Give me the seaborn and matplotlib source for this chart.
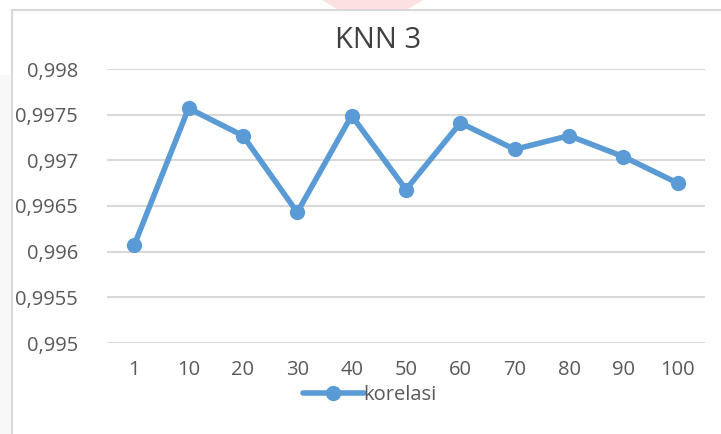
import matplotlib
matplotlib.use("Agg")
import matplotlib.pyplot as plt
import matplotlib.patches as mpatches
from matplotlib.ticker import FuncFormatter, MultipleLocator
import seaborn as sns
import pandas as pd

# K values and correlation scores
k_values = ["1", "10", "20", "30", "40", "50", "60", "70", "80", "90", "100"]
korelasi = [0.99607, 0.99757, 0.99727, 0.99643, 0.99749, 0.99668,
            0.99741, 0.99712, 0.99727, 0.99704, 0.99675]
title = "KNN 3"
series_name = "korelasi"

sns.set_theme(style="white")
plt.rcParams["font.family"] = ["Open Sans", "DejaVu Sans"]

W, H = 721, 434
fig = plt.figure(figsize=(W / 100, H / 100), dpi=100)
fig.patch.set_facecolor("white")

# light frame around the chart area
frame = mpatches.Rectangle((12 / W, -0.1), 1.2, 1 - 10 / H + 0.1,
                           transform=fig.transFigure, fill=False,
                           edgecolor="#d9d9d9", linewidth=1.5)
fig.patches.append(frame)
# pale grey page margin on the left
fig.patches.append(mpatches.Rectangle((0, 0), 11 / W, 1 - 75 / H,
                                      transform=fig.transFigure,
                                      facecolor="#f8f8f8", edgecolor="none"))
# pink mark peeking in at the top
fig.patches.append(mpatches.Polygon([(322 / W, 1.0), (423 / W, 1.0),
                                     (408 / W, 1 - 9 / H), (337 / W, 1 - 9 / H)],
                                    closed=True, transform=fig.transFigure,
                                    facecolor="#fde0e2", edgecolor="none"))

ax = fig.add_axes([107 / W, 1 - 343 / H, (705 - 107) / W, (343 - 69) / H])
df = pd.DataFrame({"k": k_values, series_name: korelasi})
color = "#5b9bd5"
sns.lineplot(data=df, x="k", y=series_name, ax=ax, color=color,
             linewidth=4, marker="o", markersize=11,
             markeredgewidth=0, label=series_name, sort=False)

ax.set_xlim(-0.5, len(k_values) - 0.5)
ax.set_ylim(0.995, 0.998)
ax.yaxis.set_major_locator(MultipleLocator(0.0005))
ax.yaxis.set_major_formatter(FuncFormatter(lambda v, p: f"{v:.4f}".rstrip("0").replace(".", ",")))
ax.grid(axis="y", color="#d9d9d9", linewidth=1.5)
ax.set_axisbelow(True)
for s in ax.spines.values():
    s.set_visible(False)
ax.set_xlabel("")
ax.set_ylabel("")
ax.tick_params(axis="both", length=0, labelsize=14.5, colors="#595959")
ax.tick_params(axis="y", pad=21)
ax.tick_params(axis="x", pad=12)

fig.text(378 / W, 1 - 40 / H, title, fontsize=21, color="#404040",
         ha="center", va="center")

leg = ax.legend(loc="upper center", bbox_to_anchor=(0.44, -0.115), frameon=False,
                fontsize=14.5, handlelength=3, handletextpad=0.0, borderpad=0)
for t in leg.get_texts():
    t.set_color("#595959")

fig.savefig("out.png", dpi=100, facecolor="white")
